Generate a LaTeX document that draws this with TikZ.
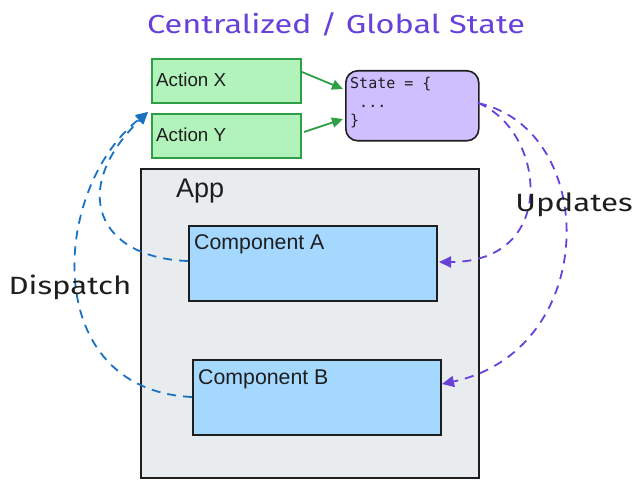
\documentclass[tikz,border=0pt]{standalone}
\usepackage{fontspec}
\setmainfont{Liberation Sans}
\newfontfamily\handfont[FakeStretch=1.25]{Fira Sans}
\newfontfamily\codefont{DejaVu Sans Mono}
\usetikzlibrary{arrows.meta}
\definecolor{greenfill}{HTML}{B2F2BB}
\definecolor{greenline}{HTML}{2F9E44}
\definecolor{purplefill}{HTML}{D0BFFF}
\definecolor{bluefill}{HTML}{A5D8FF}
\definecolor{grayfill}{HTML}{E9ECEF}
\definecolor{bluearrow}{HTML}{1971C2}
\definecolor{purplearrow}{HTML}{6741D9}
\definecolor{inkblack}{HTML}{1E1E1E}
\tikzset{
  box/.style={draw=inkblack, line width=1.6pt, anchor=north west, inner sep=0pt},
  actionbox/.style={box, draw=greenline, fill=greenfill, minimum width=149pt, minimum height=44pt},
  compbox/.style={box, fill=bluefill, minimum width=248pt, minimum height=75pt},
  lbl/.style={anchor=west, inner sep=0pt, text=inkblack},
  greenarrow/.style={draw=greenline, line width=1.8pt, -{Triangle[length=11pt,width=10pt]}},
  dispatcharrow/.style={draw=bluearrow, line width=1.8pt, dash pattern=on 9pt off 7pt, -{Triangle[length=12pt,width=11pt]}},
  updatearrow/.style={draw=purplearrow, line width=1.8pt, dash pattern=on 9pt off 7pt, -{Triangle[length=12pt,width=11pt]}},
  hand/.style={inner sep=0pt, font=\handfont\fontsize{26}{30}\selectfont},
  handsmall/.style={inner sep=0pt, font=\handfont\fontsize{25}{30}\selectfont}
}
\begin{document}
\begin{tikzpicture}[x=1pt, y=-1pt]
\useasboundingbox (0,0) rectangle (641,487);
% title
\node[hand, text=purplearrow] (title) at (336,24) {Centralized / Global State};
% actions
\node[actionbox] (ax) at (151,58) {};
\node[lbl, font=\fontsize{18.8}{22}\selectfont] (axt) at (156,80) {Action X};
\node[actionbox] (ay) at (151,113) {};
\node[lbl, font=\fontsize{18.8}{22}\selectfont] (ayt) at (156,135) {Action Y};
% state
\node[box, fill=purplefill, rounded corners=12pt, minimum width=133pt, minimum height=70pt] (st) at (345,70) {};
\node[anchor=north west, inner sep=0pt, text=inkblack, font=\codefont\fontsize{15}{18.5}\selectfont, align=left] (stt) at (350,77) {State = \{\\\ ...\\\}};
% app
\node[box, fill=grayfill, minimum width=338pt, minimum height=309pt] (app) at (140,168) {};
\node[lbl, font=\fontsize{27}{30}\selectfont] (appt) at (176,191) {App};
% components
\node[compbox] (ca) at (188,225) {};
\node[lbl, font=\fontsize{21.3}{24}\selectfont] (cat) at (194,244) {Component A};
\node[compbox] (cb) at (192,359) {};
\node[lbl, font=\fontsize{21.3}{24}\selectfont] (cbt) at (198,379) {Component B};
% green arrows
\coordinate (axs) at (302,72);
\coordinate (axe) at (343,89);
\coordinate (ays) at (304,132);
\coordinate (aye) at (343,119);
\draw[greenarrow] (axs) -- (axe);
\draw[greenarrow] (ays) -- (aye);
% dispatch arrows
\coordinate (caw) at (188,261);
\coordinate (cbw) at (192,397);
\coordinate (tip) at (148,112);
\draw[dispatcharrow] (caw) .. controls (98,258) and (68,190) .. (tip);
\draw[dispatcharrow] (cbw) .. controls (40,390) and (50,190) .. (tip);
% update arrows
\coordinate (ste) at (478,103);
\coordinate (cae) at (439,262);
\coordinate (cbe) at (442,384);
\draw[updatearrow] (ste) .. controls (545,130) and (560,262) .. (cae);
\draw[updatearrow] (ste) .. controls (600,130) and (600,350) .. (cbe);
% labels
\node[handsmall, text=inkblack] (disp) at (70,287) {Dispatch};
\node[handsmall, text=inkblack] (upd) at (574,205) {Updates};
\end{tikzpicture}
\end{document}
